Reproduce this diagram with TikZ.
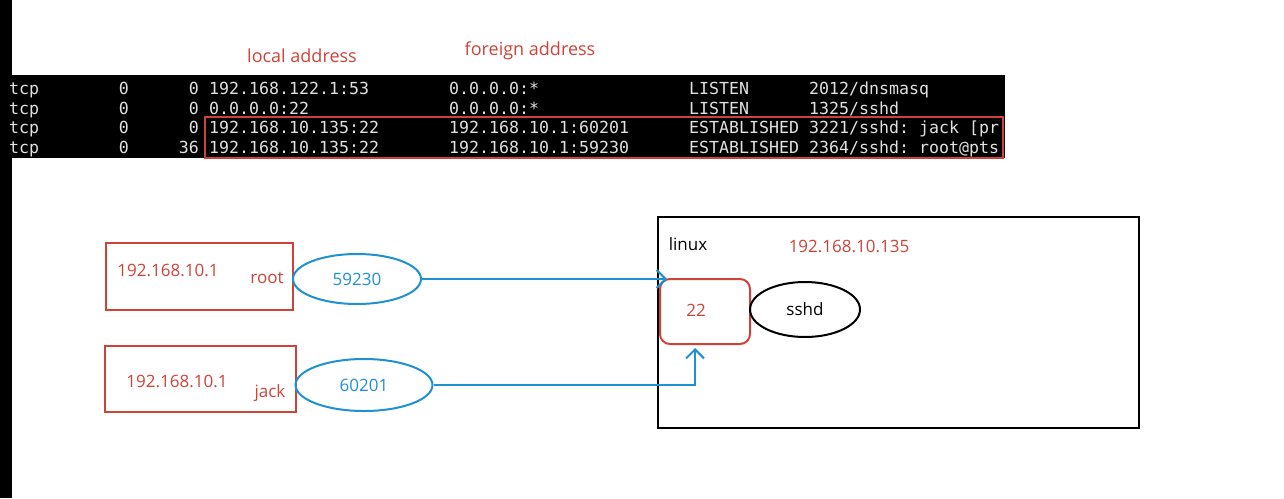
\documentclass[tikz,border=0pt]{standalone}
\usepackage{fontspec}
\setmainfont{Open Sans}
\newfontfamily\termfont{DejaVu Sans Mono}
\usetikzlibrary{arrows.meta,shapes.geometric}
\definecolor{notered}{RGB}{208,66,56}
\definecolor{portblue}{RGB}{30,145,210}
\definecolor{termgray}{RGB}{225,225,225}
\tikzset{
  host/.style={draw=notered,line width=2pt,minimum width=187pt,minimum height=67pt,inner sep=0pt},
  port/.style={ellipse,draw=portblue,line width=2pt,text=portblue,inner sep=0pt,
               font=\fontsize{17}{20}\selectfont},
  redtxt/.style={text=notered,inner sep=0pt,font=\fontsize{17}{20}\selectfont},
  blacktxt/.style={text=black,inner sep=0pt,font=\fontsize{17}{20}\selectfont},
  term/.style={text=termgray,inner sep=0pt,font=\termfont\fontsize{16.6}{20}\selectfont\frenchspacing},
  conn/.style={-{Straight Barb[length=9pt,width=18pt]},line width=2pt,portblue}
}
\begin{document}
\begin{tikzpicture}[x=1pt,y=-1pt]
  \useasboundingbox (0,0) rectangle (1284,498);
  \fill[black] (0,0) rectangle (12,498);
  % netstat output
  \fill[black] (12,75) rectangle (1005,158);
  \node[redtxt,font=\fontsize{18}{22}\selectfont] (localhd) at (302,56) {local address};
  \node[redtxt,font=\fontsize{18}{22}\selectfont] (foreignhd) at (530,51) {foreign address};
  \foreach \y/\rq/\sq/\loc/\frn/\st/\pid [count=\i] in {
      94/0/0/192.168.122.1:53/0.0.0.0:*/LISTEN/2012\slash dnsmasq,
      114/0/0/0.0.0.0:22/0.0.0.0:*/LISTEN/1325\slash sshd,
      133/0/0/192.168.10.135:22/192.168.10.1:60201/ESTABLISHED/3221\slash sshd: jack [pr,
      153/0/36/192.168.10.135:22/192.168.10.1:59230/ESTABLISHED/2364\slash sshd: root@pts} {
    \node[term,anchor=base west] (proto\i) at (9,\y) {tcp};
    \node[term,anchor=base east] (recvq\i) at (129,\y) {\rq};
    \node[term,anchor=base east] (sendq\i) at (199,\y) {\sq};
    \node[term,anchor=base west] (local\i) at (209,\y) {\loc};
    \node[term,anchor=base west] (foreign\i) at (449,\y) {\frn};
    \node[term,anchor=base west] (state\i) at (689,\y) {\st};
    \node[term,anchor=base west] (prog\i) at (809,\y) {\pid};
  }
  \draw[notered,line width=2pt] (205,117) rectangle (1003,158);

  % clients
  \node[host] (rootbox) at (199.5,276.5) {};
  \node[redtxt] (rootip) at (168,270) {192.168.10.1};
  \node[redtxt] (rootuser) at (267,278) {root};
  \node[port,minimum width=128pt,minimum height=50pt] (rootport) at (357,279) {59230};
  \node[host,minimum width=191pt,minimum height=66pt] (jackbox) at (200.5,379) {};
  \node[redtxt] (jackip) at (177,381) {192.168.10.1};
  \node[redtxt] (jackuser) at (270,393) {jack};
  \node[port,minimum width=137pt,minimum height=52pt] (jackport) at (364,385) {60201};

  % server
  \node[draw,line width=2pt,minimum width=481pt,minimum height=211pt] (linux) at (898.5,322.5) {};
  \node[blacktxt] (linuxlbl) at (688,244) {linux};
  \node[redtxt] (serverip) at (849,246) {192.168.10.135};
  \node[draw=notered,line width=2pt,rounded corners=10pt,minimum width=90pt,minimum height=65pt]
    (sshport) at (705,311.5) {};
  \node[redtxt] (portno) at (696,310) {22};
  \node[ellipse,draw,line width=2pt,minimum width=110pt,minimum height=55pt,blacktxt]
    (sshd) at (805,309.5) {sshd};

  \draw[conn] (rootport.east) -- ([xshift=8pt]rootport.east -| sshport.west);
  \draw[conn] (jackport.east) -| ([xshift=-10pt,yshift=-3pt]sshport.south);
\end{tikzpicture}
\end{document}
